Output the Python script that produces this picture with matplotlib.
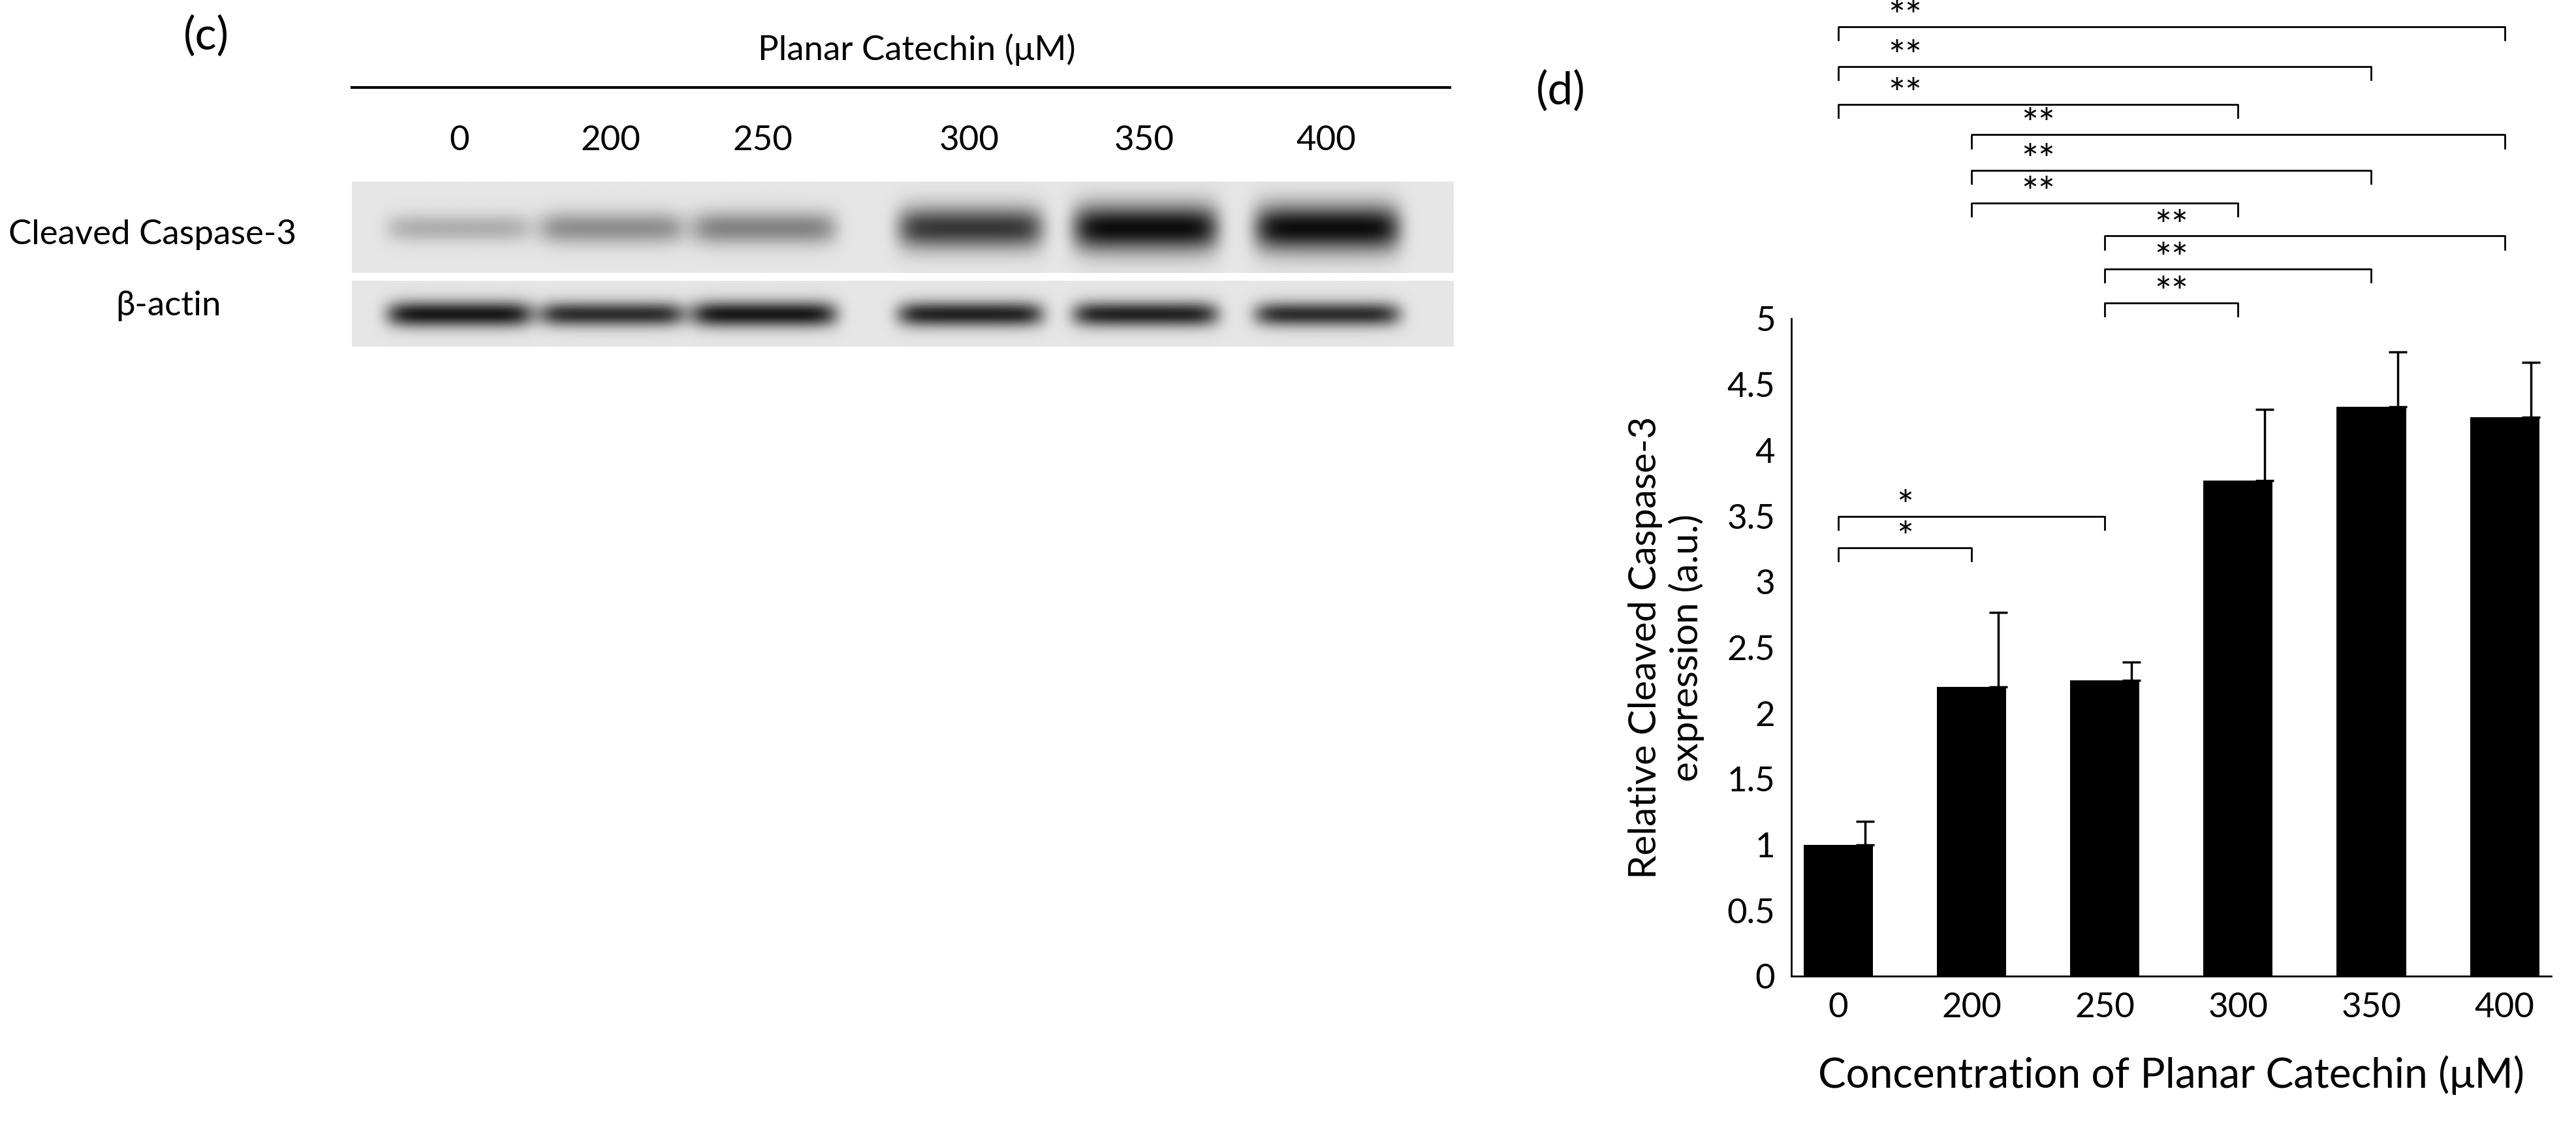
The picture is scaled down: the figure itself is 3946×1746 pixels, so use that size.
import numpy as np
import matplotlib.pyplot as plt

plt.rcParams['font.family'] = ['Lato', 'DejaVu Sans']

# data
conc = ['0', '200', '250', '300', '350', '400']
means = [1.0, 2.2, 2.25, 3.77, 4.33, 4.25]
errs = [0.18, 0.57, 0.14, 0.54, 0.42, 0.42]
# significance brackets: (from index, to index, height, label)
brackets = [(0, 5, 7.22, '**'), (0, 4, 6.92, '**'), (0, 3, 6.63, '**'),
            (1, 5, 6.40, '**'), (1, 4, 6.13, '**'), (1, 3, 5.88, '**'),
            (2, 5, 5.63, '**'), (2, 4, 5.38, '**'), (2, 3, 5.12, '**'),
            (0, 2, 3.50, '*'), (0, 1, 3.26, '*')]
# blot band intensities per lane (0..1)
casp3 = [0.25, 0.4, 0.45, 0.8, 1.0, 1.0]
actin = [0.95, 0.85, 0.95, 0.9, 0.9, 0.85]

W, H = 1560.0, 690.0
fig = plt.figure(figsize=(39.46, 17.46), dpi=100)

# ---- (c) western blot ----
fig.text(125 / W, 1 - 22 / H, '(c)', fontsize=50, ha='center', va='center')
fig.text(555 / W, 1 - 30 / H, 'Planar Catechin (μM)', fontsize=38, ha='center', va='center')
fig.add_artist(plt.Line2D([213 / W, 878 / W], [1 - 53 / H] * 2, color='black', lw=3))
lane_x = [278, 370, 462, 587, 693, 803]
for lx, c in zip(lane_x, conc):
    fig.text(lx / W, 1 - 85 / H, c, fontsize=38, ha='center', va='center')
fig.text(5 / W, 1 - 142 / H, 'Cleaved Caspase-3', fontsize=38, ha='left', va='center')
fig.text(70 / W, 1 - 185 / H, 'β-actin', fontsize=38, ha='left', va='center')


def blot(y0, y1, inten, width):
    ax = fig.add_axes([213 / W, 1 - y1 / H, (880 - 213) / W, (y1 - y0) / H])
    nx, ny = 667, int(y1 - y0)
    xs = np.arange(nx) + 213
    ys = np.arange(ny)
    img = np.full((ny, nx), 0.9)
    for lx, a in zip(lane_x, inten):
        prof = np.exp(-((xs - lx) / 44.0) ** 8)
        vert = np.exp(-((ys - ny / 2) / (width * (0.5 + 0.5 * a))) ** 2)
        img -= 0.85 * a * np.outer(vert, prof)
    ax.imshow(np.clip(img, 0, 1), cmap='gray', vmin=0, vmax=1, aspect='auto')
    ax.set_axis_off()


blot(110, 165, casp3, 14)
blot(170, 210, actin, 8)

# ---- (d) bar chart ----
ax = fig.add_axes([1085 / W, 1 - 591 / H, (1545 - 1085) / W, (591 - 193) / H])
x = np.arange(len(conc))
ax.bar(x, means, width=0.52, color='black')
ax.errorbar(x + 0.2, means, yerr=[np.zeros(6), errs], fmt='none', ecolor='black',
            elinewidth=2.5, capsize=10, capthick=2.5)
ax.set_ylim(0, 5)
ax.set_xlim(-0.35, 5.35)
ax.set_yticks(np.arange(0, 5.01, 0.5))
ax.set_yticklabels(['0', '0.5', '1', '1.5', '2', '2.5', '3', '3.5', '4', '4.5', '5'])
ax.set_xticks(x)
ax.set_xticklabels(conc)
ax.tick_params(labelsize=38, length=0, pad=18)
for s in ['top', 'right']:
    ax.spines[s].set_visible(False)
ax.spines['left'].set_linewidth(2)
ax.spines['bottom'].set_linewidth(2)
ax.set_ylabel('Relative Cleaved Caspase-3\nexpression (a.u.)', fontsize=42, labelpad=25)
ax.set_xlabel('Concentration of Planar Catechin (μM)', fontsize=46, labelpad=35)
fig.text(945 / W, 1 - 55 / H, '(d)', fontsize=50, ha='center', va='center')

for i, j, h, lab in brackets:
    ax.plot([i, i, j, j], [h - 0.1, h, h, h - 0.1], color='black', lw=2, clip_on=False)
    ax.text(i + 0.5, h - 0.08, lab, fontsize=44, ha='center', va='bottom')

fig.savefig('out.png', dpi=100)
